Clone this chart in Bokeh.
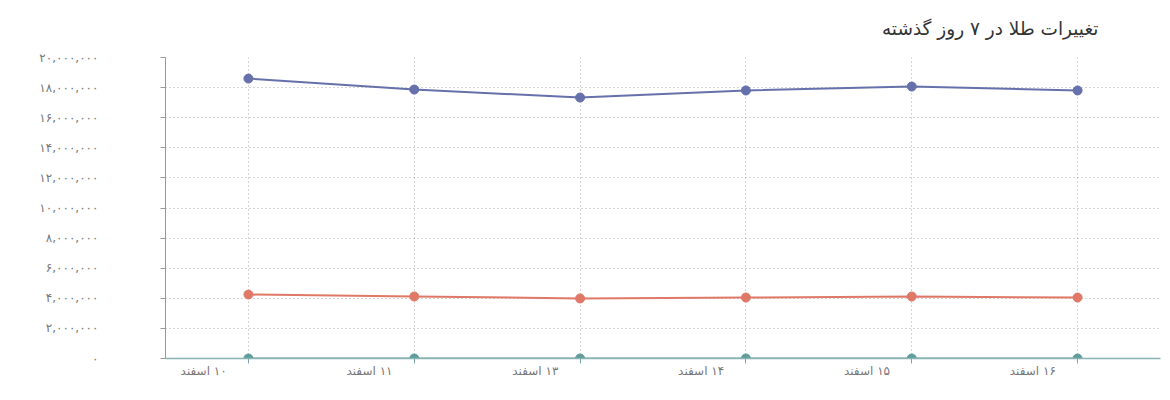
from bokeh.plotting import figure
from bokeh.models import Range1d, FixedTicker, Title, LinearAxis, Grid
from bokeh.embed import file_html
from bokeh.resources import INLINE

days = ["۱۰ اسفند", "۱۱ اسفند", "۱۳ اسفند", "۱۴ اسفند", "۱۵ اسفند", "۱۶ اسفند"]
series_blue = [18600000, 17870000, 17340000, 17810000, 18070000, 17810000]
series_red = [4250000, 4120000, 3990000, 4050000, 4120000, 4050000]
series_teal = [1910, 1890, 1880, 1895, 1900, 1892]
y_ticks = [0, 2000000, 4000000, 6000000, 8000000, 10000000, 12000000,
           14000000, 16000000, 18000000, 20000000]
title_text = "تغییرات طلا در ۷ روز گذشته"

PERSIAN = str.maketrans("0123456789", "۰۱۲۳۴۵۶۷۸۹")

def fa_num(v):
    return f"{v:,}".translate(PERSIAN)

xs = list(range(len(days)))

p = figure(width=1168, height=400, output_backend="svg", toolbar_location=None,
           x_range=Range1d(-0.5, len(days) - 0.5), y_range=Range1d(0, 20000000),
           min_border_left=165, min_border_right=8, min_border_bottom=42,
           min_border_top=57, x_axis_type=None, y_axis_type=None)
p.outline_line_color = None
p.background_fill_color = "white"
p.border_fill_color = "white"

p.title = Title(text="\u202B" + title_text + "\u202C", align="right", offset=62,
                vertical_align="top", standoff=34,
                text_font_size="18.5px", text_font="DejaVu Sans",
                text_font_style="normal", text_color="#333333")

# y axis
yax = LinearAxis(ticker=FixedTicker(ticks=y_ticks))
yax.major_label_overrides = {t: fa_num(t) for t in y_ticks}
yax.axis_line_color = "#999999"
yax.major_tick_line_color = "#999999"
yax.major_tick_out = 5
yax.major_tick_in = 0
yax.minor_tick_line_color = None
yax.major_label_standoff = 62
yax.major_label_text_font_size = "12px"
yax.major_label_text_color = "#777777"
yax.major_label_text_font = "DejaVu Sans"
p.add_layout(yax, "left")

# x axis: labels offset to the left of each point, tick marks at points
label_pos = [i - 0.27 for i in xs]
xax = LinearAxis(ticker=FixedTicker(ticks=label_pos, minor_ticks=xs))
xax.major_label_overrides = {lp: "\u202B" + d + "\u202C" for lp, d in zip(label_pos, days)}
xax.axis_line_color = "#8ab4b4"
xax.axis_line_width = 1.5
xax.major_tick_line_color = None
xax.major_tick_out = 0
xax.major_tick_in = 0
xax.minor_tick_line_color = "#7aa8a8"
xax.minor_tick_out = 5
xax.minor_tick_in = 0
xax.major_label_standoff = 0
xax.major_label_text_font_size = "12px"
xax.major_label_text_color = "#777777"
xax.major_label_text_font = "DejaVu Sans"
p.add_layout(xax, "below")

p.add_layout(Grid(dimension=1, ticker=FixedTicker(ticks=y_ticks),
                  grid_line_color="#aaaaaa", grid_line_dash="1 3"))
p.add_layout(Grid(dimension=0, ticker=FixedTicker(ticks=xs),
                  grid_line_color="#aaaaaa", grid_line_dash="1 3"))

for vals, col in [(series_teal, "#5f9d9d"), (series_red, "#e07868"), (series_blue, "#6670aa")]:
    p.line(xs, vals, line_color=col, line_width=2)
    p.scatter(xs, vals, size=9, fill_color=col, line_color=col)

open("out.html", "w").write(file_html(p, INLINE))
